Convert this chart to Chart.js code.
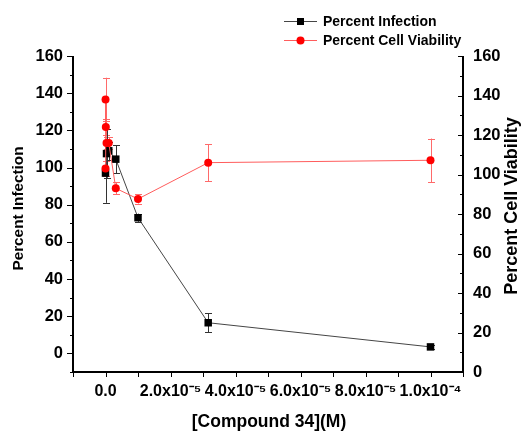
<!DOCTYPE html>
<html><head><meta charset="utf-8">
<script src="https://cdn.jsdelivr.net/npm/chart.js@4/dist/chart.umd.min.js"></script>
<style>html,body{margin:0;padding:0;background:#fff;}#wrap{width:524px;height:432px;}</style>
</head><body><div id="wrap"><canvas id="c" width="524" height="432"></canvas></div>
<script>
// ---- data (concentration in M) ----
const infectionConc = [1e-9, 3.16e-7, 1e-6, 3.16e-6, 1e-5, 3.16e-5, 1e-4];
const percentInfection = [97, 107.5, 109, 104.5, 73, 16.5, 3.5];
const infectionErr = [16, 13, 5, 7.5, 2.2, 5, 1];

const viabilityConc = [1e-9, 1e-8, 1e-7, 3.16e-7, 1e-6, 3.16e-6, 1e-5, 3.16e-5, 1e-4];
const percentViability = [103, 138, 124, 116, 116, 93, 87.6, 106, 107.2];
const viabilityErr = [4, 11, 4, 3, 3, 3, 2.3, 9.3, 11];

const xMajorTicks = [0, 2e-5, 4e-5, 6e-5, 8e-5, 1e-4];
const xMajorLabels = ['0.0', '2.0x10\u207B\u2075', '4.0x10\u207B\u2075', '6.0x10\u207B\u2075', '8.0x10\u207B\u2075', '1.0x10\u207B\u2074'];
const yLeftLabels = [0, 20, 40, 60, 80, 100, 120, 140, 160];
const yRightLabels = [0, 20, 40, 60, 80, 100, 120, 140, 160];

const seriesNames = ['Percent Infection', 'Percent Cell Viability'];
const titles = { x: '[Compound 34](M)', yLeft: 'Percent Infection', yRight: 'Percent Cell Viability' };

const FONT = "'Liberation Sans', Arial, sans-serif";
const BLACK_LINE = '#454545', RED_LINE = '#ff5c5c', RED = '#ff0000', RED_ERR = '#ff6a6a';

const toPts = (xs, ys) => xs.map((x, i) => ({ x: x, y: ys[i] }));

function zeroPad(s) { s.paddingTop = 0; s.paddingBottom = 0; s.paddingLeft = 0; s.paddingRight = 0; }

const plugin = {
  id: 'frameAndErrors',
  beforeDatasetsDraw(chart) {
    const ctx = chart.ctx, xs = chart.scales.x;
    chart.data.datasets.forEach(ds => {
      const ys = chart.scales[ds.yAxisID];
      ctx.save();
      ctx.strokeStyle = ds.errColor; ctx.lineWidth = 1;
      ds.data.forEach((p, i) => {
        const e = ds.errors[i];
        const px = Math.round(xs.getPixelForValue(p.x)) + 0.5;
        const t = ys.getPixelForValue(p.y + e), b = ys.getPixelForValue(p.y - e);
        ctx.beginPath();
        ctx.moveTo(px, t); ctx.lineTo(px, b);
        ctx.moveTo(px - 3.5, Math.round(t) + 0.5); ctx.lineTo(px + 3.5, Math.round(t) + 0.5);
        ctx.moveTo(px - 3.5, Math.round(b) + 0.5); ctx.lineTo(px + 3.5, Math.round(b) + 0.5);
        ctx.stroke();
      });
      ctx.restore();
    });
  },
  afterDraw(chart) {
    const ctx = chart.ctx, a = chart.chartArea;
    const xs = chart.scales.x, yl = chart.scales.y, yr = chart.scales.y1;
    ctx.save();
    ctx.strokeStyle = '#000'; ctx.lineWidth = 2;
    ctx.beginPath();
    ctx.moveTo(a.left, a.top); ctx.lineTo(a.left, a.bottom); ctx.lineTo(a.right, a.bottom); ctx.lineTo(a.right, a.top);
    ctx.stroke();
    ctx.lineWidth = 1;
    ctx.beginPath();
    yl.ticks.forEach(t => {
      const y = Math.round(yl.getPixelForValue(t.value)) + 0.5;
      const len = yLeftLabels.includes(t.value) ? 6 : 3;
      ctx.moveTo(a.left - len, y); ctx.lineTo(a.left, y);
    });
    yr.ticks.forEach(t => {
      const y = Math.round(yr.getPixelForValue(t.value)) + 0.5;
      const len = yRightLabels.includes(t.value) ? 5 : 3;
      ctx.moveTo(a.right - len, y); ctx.lineTo(a.right, y);
    });
    xs.ticks.forEach(t => {
      const x = Math.round(xs.getPixelForValue(t.value)) + 0.5;
      ctx.moveTo(x, a.bottom); ctx.lineTo(x, a.bottom + 5);
    });
    ctx.stroke();
    // axis titles
    ctx.fillStyle = '#000'; ctx.textAlign = 'center'; ctx.textBaseline = 'middle';
    ctx.font = 'bold 17.5px ' + FONT; ctx.fillText(titles.x, (a.left + a.right) / 2 + 1, 422);
    ctx.save(); ctx.translate(18.5, 208.5); ctx.rotate(-Math.PI / 2);
    ctx.font = 'bold 15.3px ' + FONT; ctx.fillText(titles.yLeft, 0, 0); ctx.restore();
    ctx.save(); ctx.translate(512, 206); ctx.rotate(-Math.PI / 2);
    ctx.font = 'bold 18px ' + FONT; ctx.fillText(titles.yRight, 0, 0); ctx.restore();
    // legend
    chart.data.datasets.slice().sort((p, q) => p.legendRank - q.legendRank).forEach((ds, i) => {
      const y = 21 + i * 19;
      ctx.strokeStyle = ds.borderColor; ctx.lineWidth = 1;
      ctx.beginPath(); ctx.moveTo(284, y + 0.5); ctx.lineTo(317, y + 0.5); ctx.stroke();
      ctx.fillStyle = ds.pointBackgroundColor;
      if (ds.pointStyle === 'rect') { ctx.fillRect(297, y - 3, 7, 7); }
      else { ctx.beginPath(); ctx.arc(300.5, y + 0.5, 4, 0, Math.PI * 2); ctx.fill(); }
      ctx.fillStyle = '#000'; ctx.font = 'bold 14px ' + FONT; ctx.textBaseline = 'middle'; ctx.textAlign = 'left';
      ctx.fillText(ds.label, 323, y + 1);
    });
    ctx.restore();
  }
};

function xLabel(v) {
  for (let i = 0; i < xMajorTicks.length; i++) if (Math.abs(v - xMajorTicks[i]) < 1e-9) return xMajorLabels[i];
  return '';
}

new Chart(document.getElementById('c'), {
  type: 'scatter',
  data: {
    datasets: [
      {
        label: seriesNames[1], data: toPts(viabilityConc, percentViability), errors: viabilityErr, errColor: RED_ERR,
        yAxisID: 'y1', showLine: true, borderColor: RED_LINE, borderWidth: 1, pointStyle: 'circle', pointRadius: 4,
        pointBackgroundColor: RED, pointBorderColor: RED, pointBorderWidth: 0, order: 0, legendRank: 1
      },
      {
        label: seriesNames[0], data: toPts(infectionConc, percentInfection), errors: infectionErr, errColor: '#333',
        yAxisID: 'y', showLine: true, borderColor: BLACK_LINE, borderWidth: 1, pointStyle: 'rect', pointRadius: 5.3,
        pointBackgroundColor: '#000', pointBorderColor: '#000', pointBorderWidth: 0, order: 1, legendRank: 0
      }
    ]
  },
  options: {
    responsive: false, animation: false, devicePixelRatio: 1,
    layout: { padding: { top: 56, left: 0, right: 0, bottom: 0 } },
    plugins: { legend: { display: false }, tooltip: { enabled: false } },
    scales: {
      x: {
        type: 'linear', min: -1e-5, max: 1.1e-4,
        grid: { display: false, drawTicks: false }, border: { display: false },
        ticks: { stepSize: 1e-5, autoSkip: false, maxRotation: 0, minRotation: 0, padding: 10, color: '#000',
          font: { family: FONT, size: 16, weight: 'bold' }, callback: v => xLabel(v) },
        title: { display: false },
        afterFit: s => { s.height = 60; zeroPad(s); }
      },
      y: {
        position: 'left', min: -10, max: 160,
        grid: { display: false, drawTicks: false }, border: { display: false },
        ticks: { stepSize: 10, autoSkip: false, padding: 10, color: '#000',
          font: { family: FONT, size: 16.5, weight: 'bold' }, callback: v => yLeftLabels.includes(v) ? String(v) : '' },
        title: { display: false },
        afterFit: s => { s.width = 73; zeroPad(s); }
      },
      y1: {
        position: 'right', min: 0, max: 160,
        grid: { display: false, drawTicks: false }, border: { display: false },
        ticks: { stepSize: 10, autoSkip: false, padding: 10, color: '#000',
          font: { family: FONT, size: 16.5, weight: 'bold' }, callback: v => yRightLabels.includes(v) ? String(v) : '' },
        title: { display: false },
        afterFit: s => { s.width = 61; zeroPad(s); }
      }
    }
  },
  plugins: [plugin]
});
</script>
</body></html>
